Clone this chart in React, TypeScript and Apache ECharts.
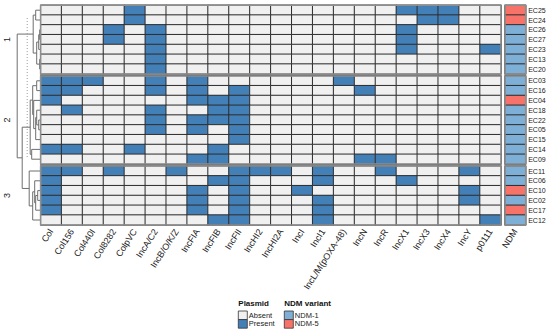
import React, { useEffect, useRef } from 'react';
import * as echarts from 'echarts';

// ---------- data ----------
const plasmids = [
  'Col', 'Col156', 'Col440I', 'Col8282', 'ColpVC', 'IncA/C2', 'IncB/O/K/Z', 'IncFIA', 'IncFIB', 'IncFII',
  'IncHI2', 'IncHI2A', 'IncI', 'IncI1', 'IncL/M(pOXA-48)', 'IncN', 'IncR', 'IncX1', 'IncX3', 'IncX4', 'IncY', 'p0111',
];
const ndmCategory = ['NDM'];
const groupLabels = ['1', '2', '3'];

const group1Rows = ['EC25', 'EC24', 'EC26', 'EC27', 'EC23', 'EC13', 'EC20'];
const group2Rows = ['EC03', 'EC16', 'EC04', 'EC18', 'EC22', 'EC05', 'EC15', 'EC14', 'EC09'];
const group3Rows = ['EC11', 'EC06', 'EC10', 'EC02', 'EC17', 'EC12'];

// indices of plasmids present, per row
const group1Present = [[4, 17, 18, 19], [4, 18, 19], [3, 5, 17], [3, 5, 17], [5, 17, 21], [5], [5]];
const group2Present = [
  [0, 1, 2, 5, 7, 14], [0, 1, 5, 7, 9, 15], [0, 7, 8, 9], [1, 5, 8, 9], [5, 7, 8, 9],
  [5, 7, 9], [9], [0, 1, 4, 8], [7, 8, 15, 16],
];
const group3Present = [
  [0, 1, 3, 6, 9, 10, 11, 13, 16, 20], [0, 8, 9, 13, 17], [0, 7, 9, 12, 20],
  [0, 7, 9, 13, 20], [0, 7, 9, 13], [8, 9, 13, 21],
];

// NDM variant per row (1 = NDM-1, 5 = NDM-5)
const group1Ndm = [5, 5, 1, 1, 1, 1, 1];
const group2Ndm = [1, 1, 5, 1, 1, 1, 1, 1, 1];
const group3Ndm = [1, 1, 5, 1, 5, 1];

// dendrogram merges: [childA, childB, height]; numbers refer to earlier merges
const dendroMerges: [string | number, string | number, number][] = [
  ['EC25', 'EC24', 5],   // 0
  ['EC26', 'EC27', 1],   // 1
  [1, 'EC23', 2],        // 2
  ['EC13', 'EC20', 1],   // 3
  [2, 3, 4],             // 4
  [0, 4, 7.5],           // 5
  ['EC03', 'EC16', 4],   // 6
  ['EC22', 'EC05', 2],   // 7
  ['EC18', 7, 4],        // 8
  [8, 'EC15', 5],        // 9
  ['EC04', 9, 7],        // 10
  [6, 10, 8],            // 11
  ['EC14', 'EC09', 9],   // 12
  [11, 12, 10.5],        // 13
  ['EC10', 'EC02', 3],   // 14
  [14, 'EC17', 5],       // 15
  ['EC06', 15, 6],       // 16
  [16, 'EC12', 8],       // 17
  ['EC11', 17, 11.5],    // 18
  [13, 18, 18.5],        // 19
  [5, 19, 23.5],         // 20
];
// cut line of the dendrogram: [height, fromRow, toRow]
const dendroCut = [13.5, 1.3, 15.6];

const legendPlasmid = ['Absent', 'Present'];
const legendNdm = ['NDM-1', 'NDM-5'];

// ---------- style ----------
const C_ABSENT = '#F0F0F0';
const C_PRESENT = '#4480B8';
const C_NDM1 = '#7DAFD7';
const C_NDM5 = '#F7736A';
const FONT = 'Liberation Sans, Arial, Helvetica, sans-serif';

const ROW_H = 9.8;
const GAP = 2;
const TOP0 = 5.3;
const HM_LEFT = 40.7;
const HM_W = 460.3;
const NDM_LEFT = 505;
const NDM_W = 20.7;

export default function App() {
  const ref = useRef<HTMLDivElement>(null);

  useEffect(() => {
    if (!ref.current) return;
    const chart = echarts.init(ref.current, undefined, { renderer: 'svg' });

    const groups = [group1Rows, group2Rows, group3Rows];
    const presents = [group1Present, group2Present, group3Present];
    const ndms = [group1Ndm, group2Ndm, group3Ndm];

    const tops: number[] = [];
    let t = TOP0;
    groups.forEach((rows) => {
      tops.push(t);
      t += rows.length * ROW_H + GAP;
    });
    const totalUnits = groups.reduce((s, r) => s + r.length, 0) + (2 * GAP) / ROW_H;

    // dendrogram segments
    const leafY: Record<string, number> = {};
    let off = 0;
    groups.forEach((rows) => {
      rows.forEach((r, i) => (leafY[r] = off + i + 0.5));
      off += rows.length + GAP / ROW_H;
    });
    const nodes: { h: number; y: number }[] = [];
    const segs: number[][] = [];
    const pos = (c: string | number) => (typeof c === 'string' ? { h: 0, y: leafY[c] } : nodes[c]);
    dendroMerges.forEach(([a, b, h]) => {
      const pa = pos(a);
      const pb = pos(b);
      segs.push([pa.h, pa.y, h, pa.y, 0]);
      segs.push([pb.h, pb.y, h, pb.y, 0]);
      segs.push([h, pa.y, h, pb.y, 0]);
      nodes.push({ h, y: (pa.y + pb.y) / 2 });
    });
    segs.push([dendroCut[0], dendroCut[1], dendroCut[0], dendroCut[2], 1]);

    const grids: any[] = [];
    const xAxes: any[] = [];
    const yAxes: any[] = [];
    const series: any[] = [];

    const baseGrid = {
      show: true,
      borderColor: '#8E8E8E',
      borderWidth: 1.5,
      backgroundColor: 'transparent',
      z: 5,
      outerBoundsMode: 'none',
    };
    const colLabel = { show: true, rotate: 57, interval: 0, fontSize: 9, color: '#222', fontFamily: FONT, margin: 5 };

    // heatmap grids
    groups.forEach((rows, g) => {
      grids.push({ ...baseGrid, left: HM_LEFT, top: tops[g], width: HM_W, height: rows.length * ROW_H });
      xAxes.push({
        type: 'category', gridIndex: g, data: plasmids, position: 'bottom',
        axisLine: { show: false }, axisTick: { show: false }, splitLine: { show: false },
        axisLabel: g === 2 ? colLabel : { show: false },
      });
      yAxes.push({
        type: 'category', gridIndex: g, data: rows, inverse: true,
        axisLine: { show: false }, axisTick: { show: false }, axisLabel: { show: false }, splitLine: { show: false },
        name: groupLabels[g], nameLocation: 'middle', nameGap: 29, nameRotate: 90,
        nameTextStyle: { fontSize: 9, color: '#222', fontFamily: FONT },
      });
      const data: number[][] = [];
      presents[g].forEach((cols, r) => plasmids.forEach((_, c) => data.push([c, r, cols.includes(c) ? 1 : 0])));
      series.push({
        type: 'heatmap', xAxisIndex: g, yAxisIndex: g, data,
        itemStyle: { borderColor: '#2E2E2E', borderWidth: 1 },
        emphasis: { disabled: true }, z: 2,
      });
    });

    // NDM grids
    groups.forEach((rows, g) => {
      const gi = 3 + g;
      grids.push({ ...baseGrid, left: NDM_LEFT, top: tops[g], width: NDM_W, height: rows.length * ROW_H });
      xAxes.push({
        type: 'category', gridIndex: gi, data: ndmCategory, position: 'bottom',
        axisLine: { show: false }, axisTick: { show: false }, splitLine: { show: false },
        axisLabel: g === 2 ? colLabel : { show: false },
      });
      yAxes.push({
        type: 'category', gridIndex: gi, data: rows, inverse: true, position: 'right',
        axisLine: { show: false }, axisTick: { show: false }, splitLine: { show: false },
        axisLabel: { show: true, fontSize: 7, color: '#222', fontFamily: FONT, margin: 2.5, interval: 0 },
      });
      series.push({
        type: 'heatmap', xAxisIndex: gi, yAxisIndex: gi,
        data: ndms[g].map((v, r) => [0, r, v]),
        itemStyle: { borderColor: '#2E2E2E', borderWidth: 1 },
        emphasis: { disabled: true }, z: 2,
      });
    });

    // dendrogram grid
    grids.push({ left: 5, top: TOP0, width: HM_LEFT - 5, height: totalUnits * ROW_H, show: false, outerBoundsMode: 'none' });
    xAxes.push({ type: 'value', gridIndex: 6, min: 0, max: HM_LEFT - 5, inverse: true, show: false });
    yAxes.push({ type: 'value', gridIndex: 6, min: 0, max: totalUnits, inverse: true, show: false });
    series.push({
      type: 'custom', xAxisIndex: 6, yAxisIndex: 6, data: segs, silent: true,
      renderItem: (params: any, api: any) => {
        const p1 = api.coord([api.value(0), api.value(1)]);
        const p2 = api.coord([api.value(2), api.value(3)]);
        const dashed = api.value(4) === 1;
        return {
          type: 'line',
          shape: { x1: p1[0], y1: p1[1], x2: p2[0], y2: p2[1] },
          style: { stroke: dashed ? '#9A9A9A' : '#6E6E6E', lineWidth: 1, lineDash: dashed ? [1, 2] : null },
        };
      },
    });

    const lx1 = 238.3;
    const lx2 = 284.3;
    const legendItems = (x: number, title: string, labels: string[], colors: string[]) => [
      { type: 'text', left: x, top: 299.5, style: { text: title, fontSize: 8, fontWeight: 'bold', fill: '#111', fontFamily: FONT } },
      ...labels.map((lab, i) => ({
        type: 'rect', shape: { x, y: 311 + i * 8.6, width: 9, height: 8.6 },
        style: { fill: colors[i], stroke: '#333', lineWidth: 0.8 },
      })),
      ...labels.map((lab, i) => ({
        type: 'text', x: x + 10.5, y: 315.3 + i * 8.6,
        style: { text: lab, fontSize: 7.5, fill: '#222', fontFamily: FONT, verticalAlign: 'middle' },
      })),
    ];

    chart.setOption({
      animation: false,
      textStyle: { fontFamily: FONT },
      grid: grids,
      xAxis: xAxes,
      yAxis: yAxes,
      visualMap: [
        {
          type: 'piecewise', show: false, dimension: 2, seriesIndex: [0, 1, 2],
          pieces: [{ value: 0, color: C_ABSENT }, { value: 1, color: C_PRESENT }],
        },
        {
          type: 'piecewise', show: false, dimension: 2, seriesIndex: [3, 4, 5],
          pieces: [{ value: 1, color: C_NDM1 }, { value: 5, color: C_NDM5 }],
        },
      ],
      graphic: [
        ...legendItems(lx1, 'Plasmid', legendPlasmid, [C_ABSENT, C_PRESENT]),
        ...legendItems(lx2, 'NDM variant', legendNdm, [C_NDM1, C_NDM5]),
      ],
      series,
    });

    return () => chart.dispose();
  }, []);

  return (
    <div
      ref={ref}
      style={{ position: 'fixed', left: 0, top: 0, width: 550, height: 332, background: '#fff' }}
    />
  );
}
